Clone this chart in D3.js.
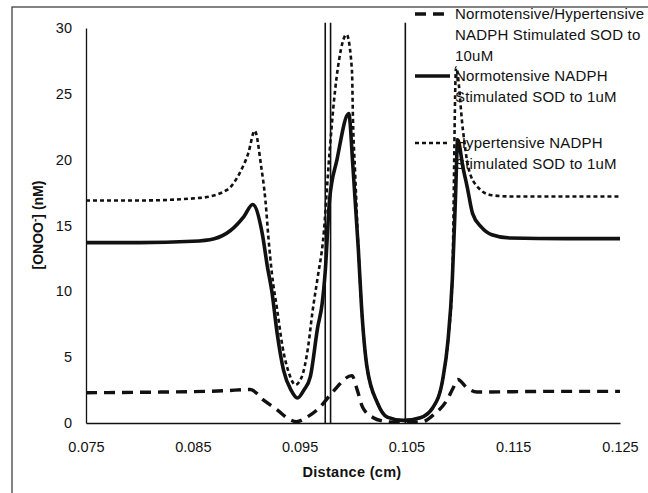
<!DOCTYPE html>
<html>
<head>
<meta charset="utf-8">
<script src="https://cdn.jsdelivr.net/npm/d3@7"></script>
<style>
  body { margin: 0; background: #fff; }
  text { font-family: "Liberation Sans", Arial, sans-serif; fill: #111; }
</style>
</head>
<body>
<div id="chart"></div>
<script>
// distance (cm) and [ONOO-] (nM)
var normoX = [0.075, 0.080, 0.085, 0.0870, 0.0885, 0.0898, 0.0906, 0.0915, 0.0920, 0.0924, 0.0929, 0.0935, 0.0942, 0.0948, 0.0954, 0.0960, 0.0967, 0.0971, 0.0974, 0.0978, 0.0985, 0.0996, 0.1000, 0.1005, 0.1008, 0.1013, 0.1023, 0.1032, 0.1047, 0.1063, 0.1075, 0.1084, 0.1089, 0.1093, 0.1096, 0.1098, 0.1103, 0.1107, 0.1112, 0.1120, 0.1130, 0.1147, 0.120, 0.125];
var normoY = [13.7, 13.7, 13.8, 14.0, 14.6, 15.7, 16.6, 14.4, 11.8, 10.0, 6.8, 4.0, 2.5, 1.9, 2.5, 3.5, 7.3, 9.0, 11.5, 16.9, 20.0, 23.5, 19.4, 13.2, 8.8, 4.3, 1.5, 0.45, 0.2, 0.4, 1.2, 3.3, 6.3, 10.9, 17.2, 21.5, 19.4, 17.9, 15.9, 14.9, 14.3, 14.05, 14.0, 14.0];

var hyperX = [0.075, 0.080, 0.0857, 0.0882, 0.0894, 0.0902, 0.0908, 0.0914, 0.0918, 0.0921, 0.0924, 0.0929, 0.0934, 0.0940, 0.0946, 0.0952, 0.0958, 0.0962, 0.0967, 0.0972, 0.0978, 0.0982, 0.0987, 0.0994, 0.0999, 0.1000, 0.1002, 0.1005, 0.1008, 0.1013, 0.1023, 0.1032, 0.1047, 0.1063, 0.1075, 0.1084, 0.1089, 0.1093, 0.10965, 0.1103, 0.1108, 0.1117, 0.1130, 0.1150, 0.125];
var hyperY = [16.9, 16.9, 17.1, 17.7, 19.0, 20.5, 22.2, 19.5, 16.9, 13.9, 11.4, 8.6, 5.8, 3.8, 2.9, 3.5, 5.8, 8.4, 11.1, 13.9, 20.5, 24.3, 27.6, 29.5, 26.8, 23.0, 19.0, 13.3, 8.8, 4.3, 1.5, 0.45, 0.2, 0.4, 1.2, 3.3, 6.3, 10.9, 27.0, 22.2, 19.4, 17.9, 17.3, 17.2, 17.2];

var highX = [0.075, 0.082, 0.088, 0.0904, 0.0916, 0.0929, 0.0941, 0.0947, 0.0957, 0.0969, 0.0981, 0.0999, 0.1004, 0.1009, 0.1019, 0.1028, 0.1040, 0.1065, 0.1075, 0.1088, 0.1094, 0.1098, 0.1107, 0.1116, 0.118, 0.125];
var highY = [2.3, 2.35, 2.45, 2.55, 1.75, 1.0, 0.25, 0.1, 0.45, 1.2, 2.35, 3.6, 2.5, 1.2, 0.4, 0.15, 0.05, 0.1, 0.6, 1.75, 2.7, 3.3, 2.65, 2.35, 2.4, 2.4];

// vertical marker lines
var markerX = [0.0974, 0.0979, 0.1049];
var markerTop = 30.4;

var xTicks = [0.075, 0.085, 0.095, 0.105, 0.115, 0.125];
var yTicks = [0, 5, 10, 15, 20, 25, 30];

var legendLines = [
  ["Normotensive/Hypertensive", "NADPH Stimulated SOD to", "10uM"],
  ["Normotensive NADPH", "Stimulated SOD to 1uM"],
  ["Hypertensive NADPH", "Stimulated SOD to 1uM"]
];

(function() {
  var width = 648,
    height = 493;

  var svg = d3.select("#chart")
    .append("svg")
    .attr("width", width)
    .attr("height", height);

  // scanned frame around the figure
  svg.append("rect")
    .attr("x", 12)
    .attr("y", 7)
    .attr("width", 700)
    .attr("height", 600)
    .attr("fill", "none")
    .attr("stroke", "#333")
    .attr("stroke-width", 1.2);

  var x = d3.scaleLinear().domain([0.075, 0.125]).range([86, 620]);
  var y = d3.scaleLinear().domain([0, 30]).range([423, 28]);

  var xAxis = svg.append("g")
    .attr("transform", "translate(0,423)")
    .call(d3.axisBottom(x).tickValues(xTicks).tickSize(0).tickPadding(19).tickFormat(d3.format(".3f")));
  var yAxis = svg.append("g")
    .attr("transform", "translate(86,0)")
    .call(d3.axisLeft(y).tickValues(yTicks).tickSize(0).tickPadding(14));

  [xAxis, yAxis].forEach(function(g) {
    g.select(".domain").attr("stroke", "#111").attr("stroke-width", 1.3);
    g.selectAll("text").attr("font-size", 14.5).attr("fill", "#111")
      .style("font-family", "'Liberation Sans', Arial, sans-serif");
  });

  svg.append("text")
    .attr("x", 352)
    .attr("y", 477)
    .attr("text-anchor", "middle")
    .attr("font-size", 14.5)
    .attr("font-weight", "bold")
    .attr("letter-spacing", 0.3)
    .text("Distance (cm)");

  svg.append("text")
    .attr("transform", "translate(43,225) rotate(-90)")
    .attr("text-anchor", "middle")
    .attr("font-size", 14)
    .attr("font-weight", "bold")
    .html("[ONOO<tspan dy='-5' font-size='10'>-</tspan><tspan dy='5'>] (nM)</tspan>");

  // vertical lines
  svg.selectAll(".marker")
    .data(markerX)
    .enter().append("line")
    .attr("class", "marker")
    .attr("x1", function(d) { return x(d); })
    .attr("x2", function(d) { return x(d); })
    .attr("y1", y(0))
    .attr("y2", y(markerTop))
    .attr("stroke", "#111")
    .attr("stroke-width", 1.6);

  var series = [
    { xs: highX, ys: highY, dash: "11,7", w: 3.4 },
    { xs: normoX, ys: normoY, dash: null, w: 3.6 },
    { xs: hyperX, ys: hyperY, dash: "4,3", w: 2.6 }
  ];

  var line = d3.line()
    .x(function(d) { return x(d[0]); })
    .y(function(d) { return y(d[1]); })
    .curve(d3.curveMonotoneX);

  svg.selectAll(".series")
    .data(series)
    .enter().append("path")
    .attr("class", "series")
    .attr("d", function(s) {
      return line(s.xs.map(function(v, i) { return [v, s.ys[i]]; }));
    })
    .attr("fill", "none")
    .attr("stroke", "#111")
    .attr("stroke-width", function(s) { return s.w; })
    .attr("stroke-dasharray", function(s) { return s.dash; });

  // legend
  var legendY = [14, 76, 143];
  var legend = svg.selectAll(".legend")
    .data(series)
    .enter().append("g")
    .attr("class", "legend")
    .attr("transform", function(d, i) { return "translate(415," + legendY[i] + ")"; });

  legend.append("line")
    .attr("x1", 0)
    .attr("x2", 35)
    .attr("stroke", "#111")
    .attr("stroke-width", function(s) { return s.w; })
    .attr("stroke-dasharray", function(s) { return s.dash; });

  legend.each(function(d, i) {
    var g = d3.select(this);
    legendLines[i].forEach(function(t, j) {
      g.append("text")
        .attr("x", 40)
        .attr("y", j * 21 + 5)
        .attr("font-size", 15)
        .attr("letter-spacing", 0.2)
        .text(t);
    });
  });
})();
</script>
</body>
</html>
